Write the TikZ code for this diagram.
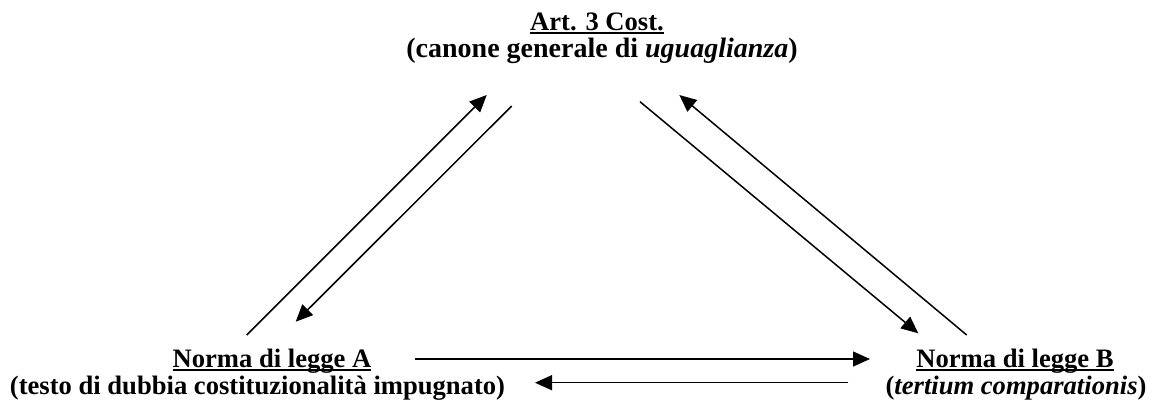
\documentclass[tikz,border=0pt]{standalone}
\usepackage{fontspec}
\setmainfont{Liberation Serif}
\usetikzlibrary{arrows.meta}
\newcommand\wul[1]{\setbox0\hbox{#1}\rlap{\rule[-1.85pt]{\wd0}{0.9pt}}\box0}
\tikzset{
  lbl/.style={anchor=base, inner sep=0pt, font=\fontsize{13.3pt}{14pt}\selectfont\bfseries},
  conn/.style={line width=0.75pt, -{Triangle[length=8.5pt,width=7.5pt]}}
}
\begin{document}
\begin{tikzpicture}[x=0.5pt,y=-0.5pt]
\path[use as bounding box] (0,0) rectangle (1159,403);
% texts
\node[lbl] (topT) at (597,30) {\wul{Art. 3 Cost.}};
\node[lbl, font=\fontsize{14pt}{15pt}\selectfont\bfseries] (topS) at (602,57) {(canone generale di \textit{uguaglianza})};
\node[lbl] (aT) at (272,367) {\wul{Norma di legge A}};
\node[lbl] (aS) at (257.5,394) {(testo di dubbia costituzionalità impugnato)};
\node[lbl] (bT) at (1015,367) {\wul{Norma di legge B}};
\node[lbl] (bS) at (1016,394) {(\textit{tertium comparationis})};
% connector end points
\coordinate (a1) at (246.7,335);   \coordinate (t1) at (486.7,95);
\coordinate (t2) at (511.7,106);   \coordinate (a2) at (295.7,321.7);
\coordinate (t3) at (640,101.7);   \coordinate (b3) at (918.3,333.3);
\coordinate (b4) at (966.7,335);   \coordinate (t4) at (679.3,95);
\coordinate (a5) at (415,359);     \coordinate (b5) at (870,359);
\coordinate (b6) at (848.3,382.7); \coordinate (a6) at (535,382.7);
% connectors
\draw[conn] (a1) -- (t1);
\draw[conn] (t2) -- (a2);
\draw[conn] (t3) -- (b3);
\draw[conn] (b4) -- (t4);
\draw[conn] (a5) -- (b5);
\draw[conn] (b6) -- (a6);
\end{tikzpicture}
\end{document}
